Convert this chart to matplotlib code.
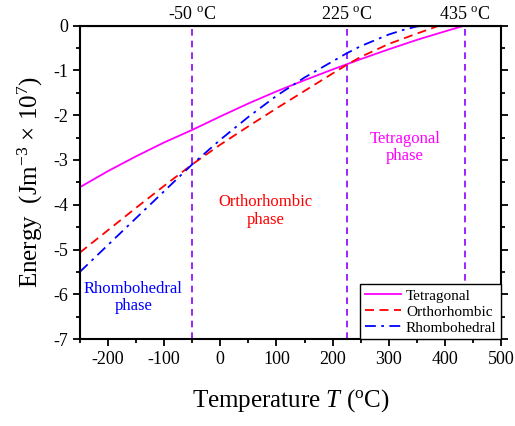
import matplotlib
matplotlib.use("Agg")
import matplotlib.pyplot as plt
from matplotlib.ticker import MultipleLocator, NullLocator

plt.rcParams['font.family'] = ['Liberation Serif', 'DejaVu Serif']
plt.rcParams['mathtext.fontset'] = 'custom'
plt.rcParams['mathtext.rm'] = 'Liberation Serif'
plt.rcParams['mathtext.it'] = 'Liberation Serif:italic'
plt.rcParams['axes.unicode_minus'] = False

# Energy curves (Jm^-3 x 10^7)
t_tet = [-250, -200, -150, -100, -50, 0, 50, 100, 150, 200, 250, 300, 350, 400, 435]
e_tet = [-3.61, -3.25, -2.92, -2.61, -2.33, -2.03, -1.74, -1.47, -1.22, -0.98, -0.75, -0.53, -0.32, -0.13, 0.0]

t_ort = [-250, -200, -150, -100, -50, 0, 50, 100, 150, 200, 225, 250, 300, 350, 390]
e_ort = [-5.07, -4.57, -4.07, -3.58, -3.10, -2.66, -2.25, -1.85, -1.46, -1.07, -0.88, -0.70, -0.41, -0.18, 0.0]

t_rho = [-250, -200, -150, -100, -50, 0, 50, 100, 150, 200, 225, 250, 275, 300, 325, 350, 365]
e_rho = [-5.50, -4.90, -4.30, -3.70, -3.10, -2.55, -2.04, -1.57, -1.16, -0.80, -0.62, -0.46, -0.33, -0.20, -0.10, -0.02, 0.0]

# Phase transition temperatures
transitions = [-50, 225, 435]
transition_labels = ['-50 $^{\\rm o}$C', '225 $^{\\rm o}$C', '435 $^{\\rm o}$C']

fig = plt.figure(figsize=(5.15, 4.26), dpi=100)
ax = fig.add_axes([0.155, 0.204, 0.818, 0.736])

for t in transitions:
    ax.axvline(t, color='#8B00FF', linestyle=(0, (4, 3)), linewidth=1.2, zorder=1)

ax.plot(t_tet, e_tet, color='#FF00FF', linewidth=1.3, label='Tetragonal')
ax.plot(t_ort, e_ort, color='#FF0000', linewidth=1.3, linestyle=(0, (5, 3)), label='Orthorhombic')
ax.plot(t_rho, e_rho, color='#0000FF', linewidth=1.3, linestyle=(0, (6, 3, 1.5, 3)), label='Rhombohedral')

ax.set_xlim(-250, 500)
ax.set_ylim(-7, 0)
ax.xaxis.set_major_locator(MultipleLocator(100))
ax.xaxis.set_minor_locator(MultipleLocator(50))
ax.yaxis.set_major_locator(MultipleLocator(1))
ax.yaxis.set_minor_locator(MultipleLocator(0.5))
ax.tick_params(which='both', direction='out', labelsize=13, right=True, width=1.3)
ax.tick_params(which='major', length=5)
ax.tick_params(which='minor', length=3)
for s in ax.spines.values():
    s.set_linewidth(1.5)

# Top labels at the transition temperatures
top = ax.secondary_xaxis('top')
top.set_xticks(transitions)
top.set_xticklabels(transition_labels)
top.xaxis.set_minor_locator(NullLocator())
top.tick_params(which='both', length=0, labelsize=13, pad=2)

ax.set_xlabel('Temperature $\\it{T}$ ($^{\\rm o}$C)', fontsize=18, labelpad=14)
ax.set_ylabel('Energy  (Jm$^{-3}$ $\\times$ 10$^{7}$)', fontsize=18, labelpad=6)

ax.text(329, -2.73, 'Tetragonal\nphase', color='#FF00FF', fontsize=12, ha='center', va='center', linespacing=1.1)
ax.text(80, -4.14, 'Orthorhombic\nphase', color='#FF0000', fontsize=12, ha='center', va='center', linespacing=1.1)
ax.text(-155, -6.08, 'Rhombohedral\nphase', color='#0000FF', fontsize=12, ha='center', va='center', linespacing=1.1)

leg = ax.legend(loc='lower right', fontsize=11, borderaxespad=0, fancybox=False,
                edgecolor='black', framealpha=1, handlelength=2.4, labelspacing=0.15,
                borderpad=0.3, handletextpad=0.3)
leg.get_frame().set_linewidth(1.0)

fig.savefig('out.png', dpi=100)
